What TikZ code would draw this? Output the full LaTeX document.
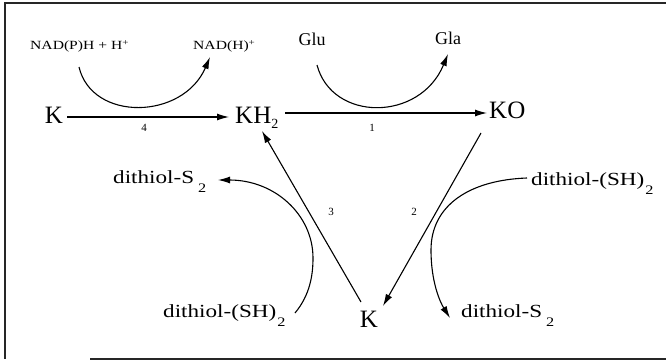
\documentclass[tikz,border=0pt]{standalone}
\usepackage{fontspec}
\setmainfont{Liberation Serif}
\newfontfamily\widefont[FakeStretch=1.25]{Liberation Serif}
\usetikzlibrary{arrows.meta}
\newcommand{\subtwo}[1]{\hspace{#1}\raisebox{-9pt}{\fontsize{13}{13}\selectfont 2}}
\begin{document}
\begin{tikzpicture}[x=1pt,y=-1pt,
  big/.style={inner sep=0pt,font=\fontsize{25}{26}\selectfont},
  lab/.style={inner sep=0pt,font=\widefont\fontsize{18.5}{20}\selectfont},
  aa/.style={inner sep=0pt,font=\fontsize{18}{19}\selectfont},
  nad/.style={inner sep=0pt,font=\widefont\fontsize{12.5}{13}\selectfont},
  num/.style={inner sep=0pt,font=\fontsize{11}{12}\selectfont},
  arr/.style={line width=1.1pt,-{Latex[length=12pt,width=7pt]}},
  frame/.style={line width=1.3pt,draw=black!85}]
\useasboundingbox (0,0) rectangle (666,361);
% frame
\draw[frame] (666,3) -- (5,3) -- (5,359);
\draw[frame] (90,359) -- (666,359);
% main species
\node[big,anchor=base] (K1) at (54,123) {K};
\node[big,anchor=base west] (KH2) at (235,123) {KH\raisebox{-5pt}{\fontsize{14}{14}\selectfont 2}};
\node[big,anchor=base west] (KO) at (489,118) {KO};
\node[big,anchor=base] (Kb) at (369,327) {K};
% cofactors
\node[nad,anchor=base west] (nadp) at (30,50) {NAD(P)H + H\textsuperscript{+}};
\node[nad,anchor=base west] (nadh) at (193,50) {NAD(H)\textsuperscript{+}};
\node[aa,anchor=base] (glu) at (312,46) {Glu};
\node[aa,anchor=base] (gla) at (448,45) {Gla};
\node[lab,anchor=base west] (ds2a) at (113,183) {dithiol-S\subtwo{4pt}};
\node[lab,anchor=base west] (dsha) at (163,317) {dithiol-(SH)\subtwo{1pt}};
\node[lab,anchor=base west] (dshb) at (531,185) {dithiol-(SH)\subtwo{1pt}};
\node[lab,anchor=base west] (ds2b) at (461,317) {dithiol-S\subtwo{4pt}};
% step numbers
\node[num] (n4) at (144,128) {4};
\node[num] (n1) at (372,128) {1};
\node[num] (n2) at (414,212) {2};
\node[num] (n3) at (331,212) {3};
% connector end points
\coordinate (a4s) at (67,117);
\coordinate (a4e) at (229,117);
\coordinate (a1s) at (285,113);
\coordinate (a1e) at (487,113);
\coordinate (a2s) at (481,133);
\coordinate (a2e) at (383,306);
\coordinate (a3s) at (361,302);
\coordinate (a3e) at (262,131);
% main arrows
\draw[arr] (a4s) -- (a4e);
\draw[arr] (a1s) -- (a1e);
\draw[arr] (a2s) -- (a2e);
\draw[arr] (a3s) -- (a3e);
% curved side arrows
\draw[arr] (79,67) .. controls (92,122) and (183,120) .. (210,57);
\draw[arr] (317,65) .. controls (332,122) and (420,122) .. (448,54);
\draw[arr] (295,313) .. controls (310,295) and (313,275) .. (313,258)
   .. controls (313,215) and (275,180) .. (218,180);
\draw[arr] (527,178) .. controls (470,180) and (431,205) .. (431,250)
   .. controls (431,282) and (440,302) .. (450,318);
\end{tikzpicture}
\end{document}
